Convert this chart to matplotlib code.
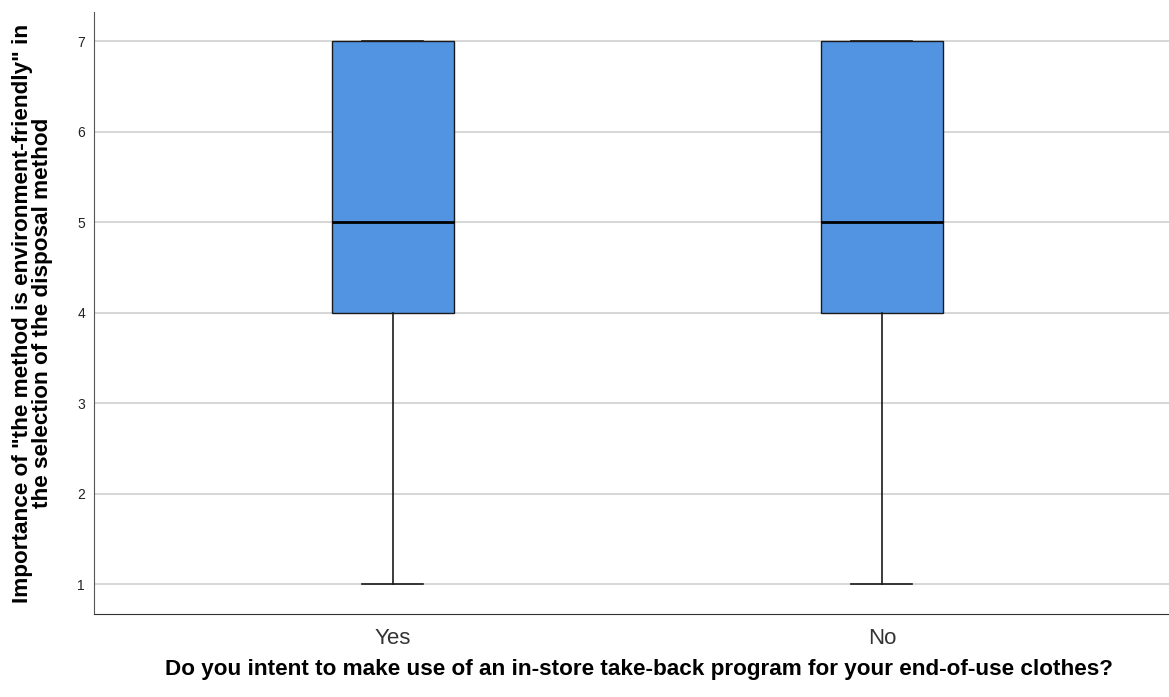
import matplotlib
matplotlib.use("Agg")
import matplotlib.pyplot as plt

categories = ["Yes", "No"]
mins = [1, 1]
q1s = [4, 4]
medians = [5, 5]
q3s = [7, 7]
maxs = [7, 7]
yticks = [1, 2, 3, 4, 5, 6, 7]

plt.rcParams['font.family'] = ['Liberation Sans', 'DejaVu Sans']

fig = plt.figure(figsize=(11.69, 6.97), dpi=100)
ax = fig.add_axes([0.0804, 0.119, 0.9196, 0.864])

stats = []
for c, lo, a, m, b, hi in zip(categories, mins, q1s, medians, q3s, maxs):
    stats.append(dict(label=c, whislo=lo, q1=a, med=m, q3=b, whishi=hi, fliers=[]))

positions = list(range(1, len(categories) + 1))
ax.bxp(stats, positions=positions, widths=0.25, patch_artist=True, showfliers=False,
       boxprops=dict(facecolor='#5294E2', edgecolor='#1a1a1a', linewidth=1.0),
       medianprops=dict(color='black', linewidth=2.0),
       whiskerprops=dict(color='#1a1a1a', linewidth=1.2),
       capprops=dict(color='#1a1a1a', linewidth=1.2), capwidths=0.125,
       zorder=3)

ax.set_xlim(0.389, 2.587)
ax.set_ylim(0.672, 7.326)
ax.set_yticks(yticks)
ax.set_yticklabels([str(t) for t in yticks], fontsize=10, color='#222222')
ax.set_xticks(positions)
ax.set_xticklabels(categories, fontsize=16, color='#333333')
ax.tick_params(axis='both', length=0)
ax.tick_params(axis='y', pad=6.5)
ax.tick_params(axis='x', pad=10)

ax.yaxis.grid(True, color='#d0d0d0', linewidth=1.2, zorder=0)
ax.set_axisbelow(True)
for s in ['top', 'right']:
    ax.spines[s].set_visible(False)
ax.spines['left'].set_color('#555555')
ax.spines['bottom'].set_color('#333333')

ax.set_ylabel('Importance of "the method is environment-friendly" in\nthe selection of the disposal method',
              fontsize=16.2, fontweight='bold', labelpad=17, linespacing=0.95)
ax.set_xlabel('Do you intent to make use of an in-store take-back program for your end-of-use clothes?',
              fontsize=16.2, fontweight='bold', labelpad=7)
ax.xaxis.label.set_x(0.507)

fig.savefig('out.png', dpi=100)
